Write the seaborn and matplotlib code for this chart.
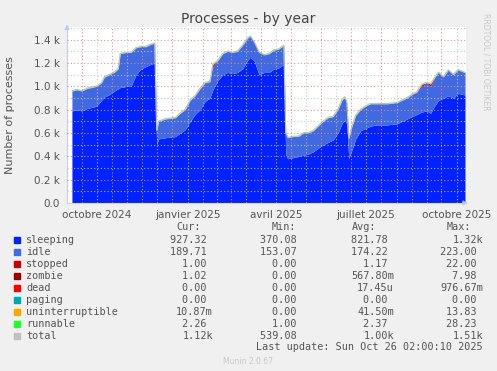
import numpy as np
import pandas as pd
import seaborn as sns
import matplotlib.pyplot as plt

# --- data ---
start = pd.Timestamp("2024-09-21")
end = pd.Timestamp("2025-10-26")

days = [0, 5, 10, 15, 20, 25, 30, 33, 38, 43,
        47, 49, 55, 60, 65, 70, 75, 80, 84, 86,
        88, 95, 105, 110, 115, 120, 125, 130, 135, 140,
        143, 148, 153, 158, 163, 168, 173, 178, 181, 185,
        190, 195, 200, 205, 210, 215, 217, 219, 225, 230,
        235, 240, 245, 250, 255, 260, 265, 270, 274, 277,
        279, 281, 284, 288, 293, 298, 303, 310, 320, 330,
        335, 340, 345, 350, 355, 360, 364, 368, 372, 377,
        382, 387, 392, 399]

sleeping = [790, 800, 790, 810, 820, 830, 880, 910, 930, 960,
            980, 990, 1000, 1000, 1100, 1150, 1170, 1190, 1200, 500,
            550, 560, 570, 600, 630, 700, 760, 800, 870, 900,
            970, 1050, 1100, 1120, 1110, 1120, 1150, 1220, 1250, 1220,
            1100, 1120, 1120, 1150, 1160, 1190, 420, 380, 390, 400,
            410, 420, 440, 470, 500, 520, 540, 600, 680, 710,
            680, 380, 450, 550, 620, 640, 660, 670, 670, 680,
            700, 720, 740, 760, 780, 790, 770, 830, 880, 900,
            920, 900, 940, 927]

idle = [170, 170, 170, 170, 170, 170, 150, 170, 170, 160,
        170, 290, 290, 290, 230, 190, 170, 170, 170, 120,
        150, 160, 160, 170, 170, 180, 160, 180, 160, 140,
        200, 170, 180, 180, 180, 180, 200, 190, 180, 160,
        190, 150, 160, 160, 160, 160, 180, 180, 180, 170,
        190, 180, 180, 190, 200, 210, 200, 200, 200, 200,
        180, 170, 200, 200, 180, 190, 190, 180, 180, 180,
        180, 180, 190, 190, 220, 240, 230, 240, 240, 180,
        220, 200, 200, 190]

stopped = [1, 1, 1, 1, 1, 1, 1, 1, 1, 1,
           1, 1, 1, 1, 1, 1, 1, 1, 1, 1,
           1, 1, 1, 1, 1, 1, 1, 1, 1, 1,
           18, 1, 1, 1, 1, 1, 1, 1, 1, 1,
           1, 1, 1, 1, 1, 1, 1, 1, 1, 1,
           1, 1, 1, 1, 1, 1, 1, 1, 1, 1,
           1, 1, 1, 1, 1, 1, 1, 1, 1, 1,
           1, 1, 1, 1, 16, 3, 20, 4, 1, 1,
           1, 1, 1, 1]

zombie = [0.5, 0.6, 0.5, 0.6, 0.5, 0.6, 0.6, 0.5, 0.6, 0.5,
          0.6, 0.5, 0.6, 0.5, 0.6, 0.5, 0.6, 0.5, 0.6, 0.5,
          0.6, 0.5, 0.6, 0.5, 0.6, 0.5, 0.6, 0.5, 0.6, 0.5,
          0.6, 0.5, 0.6, 0.5, 0.6, 0.5, 0.6, 0.5, 0.6, 0.5,
          0.6, 0.5, 0.6, 0.5, 0.6, 0.5, 0.6, 0.5, 0.6, 0.5,
          0.6, 0.5, 0.6, 0.5, 0.6, 0.5, 0.6, 0.5, 0.6, 0.5,
          0.6, 0.5, 0.6, 0.5, 0.6, 0.5, 0.6, 0.5, 0.6, 0.5,
          0.6, 0.5, 0.6, 0.5, 0.6, 0.5, 0.6, 0.5, 0.6, 0.5,
          0.6, 0.5, 1.0, 1.0]

runnable = [2, 3, 2, 2, 3, 2, 2, 3, 2, 2,
            3, 2, 2, 3, 2, 2, 3, 2, 2, 3,
            2, 2, 3, 2, 2, 3, 2, 2, 3, 2,
            2, 3, 2, 2, 3, 2, 2, 3, 2, 2,
            3, 2, 2, 3, 2, 2, 3, 2, 2, 3,
            2, 2, 3, 2, 2, 3, 2, 2, 3, 2,
            2, 3, 2, 2, 3, 2, 2, 3, 2, 2,
            3, 2, 2, 3, 2, 2, 3, 2, 2, 3,
            2, 2, 3, 2]

series_names = ["sleeping", "idle", "stopped", "zombie", "dead", "paging",
                "uninterruptible", "runnable", "total"]
series_colors = ["#0022ff", "#4169e1", "#cc0000", "#990000", "#ff0000", "#00aaaa",
                 "#ffa500", "#22ff22", "#c0c0c0"]
cur_vals = ["927.32 ", "189.71 ", "1.00 ", "1.02 ", "0.00 ", "0.00 ", "10.87m", "2.26 ", "1.12k"]
min_vals = ["370.08 ", "153.07 ", "0.00 ", "0.00 ", "0.00 ", "0.00 ", "0.00 ", "1.00 ", "539.08 "]
avg_vals = ["821.78 ", "174.22 ", "1.17 ", "567.80m", "17.45u", "0.00 ", "41.50m", "2.37 ", "1.00k"]
max_vals = ["1.32k", "223.00 ", "22.00 ", "7.98 ", "976.67m", "0.00 ", "13.83 ", "28.23 ", "1.51k"]

df = pd.DataFrame({"date": start + pd.to_timedelta(days, unit="D"),
                   "sleeping": sleeping, "idle": idle, "stopped": stopped,
                   "zombie": zombie, "runnable": runnable})
df["total"] = df[["sleeping", "idle", "stopped", "zombie", "runnable"]].sum(axis=1)

# --- style ---
sns.set_theme(style="white")
plt.rcParams["font.family"] = ["DejaVu Sans"]
txt = "#555555"

fig = plt.figure(figsize=(4.97, 3.71), dpi=100, facecolor="#f0f0f0")
ax = fig.add_axes([67 / 497, 1 - 203 / 371, 399 / 497, 176 / 371])
ax.set_facecolor("white")

# stacked areas, in munin's draw order
base = np.zeros(len(df))
for name, col in zip(["sleeping", "idle", "stopped", "zombie", "runnable"],
                     ["#0022ff", "#4169e1", "#cc0000", "#990000", "#22ff22"]):
    top = base + df[name].to_numpy()
    ax.fill_between(df["date"], base, top, color=col, lw=0, zorder=1)
    base = top
sns.lineplot(data=df, x="date", y="total", color="#b8c8a0", lw=0.8, ax=ax, zorder=2)

ax.set_xlim(start, end)
ax.set_ylim(0, 1510)
ax.set_xlabel("")
ax.set_ylabel("")

# y axis: ticks every 0.2 k, minor every 0.1 k
yt = np.arange(0, 1401, 200)
ax.set_yticks(yt)
ax.set_yticklabels(["0.0"] + [f"{v / 1000:.1f} k" for v in yt[1:]])
ax.set_yticks(np.arange(100, 1501, 200), minor=True)

# x axis: month starts as major, mid-months as minor (labels on quarters)
months = pd.date_range("2024-10-01", "2025-10-01", freq="MS")
ax.set_xticks(months)
ax.set_xticklabels([""] * len(months))
fr = {1: "janvier", 4: "avril", 7: "juillet", 10: "octobre"}
all_months = pd.date_range("2024-09-01", "2025-10-01", freq="MS")
mids = [m + (m + pd.offsets.MonthBegin(1) - m) / 2 for m in all_months]
mid_labels = [f"{fr[m.month]} {m.year}" if m.month in fr else "" for m in all_months]
ax.set_xticks(mids, minor=True)
ax.set_xticklabels(mid_labels, minor=True)

ax.tick_params(axis="x", which="major", length=3, color="#e08a8a", labelsize=7.5)
ax.tick_params(axis="x", which="minor", length=2, color="#c8c8c8", labelsize=7.5,
               labelcolor=txt, pad=3)
ax.tick_params(axis="y", which="major", length=2, color="#e08a8a", labelsize=7.5,
               labelcolor=txt, pad=3)
ax.tick_params(axis="y", which="minor", length=0)

ax.set_axisbelow(False)
ax.grid(which="major", color="#e08a8a", ls=(0, (1, 2)), lw=0.8, alpha=0.9)
ax.grid(which="minor", color="#c4c4c4", ls=(0, (1, 2)), lw=0.8, alpha=0.9)

for s in ["top", "right"]:
    ax.spines[s].set_visible(False)
for s in ["left", "bottom"]:
    ax.spines[s].set_color("#cdd3f0")
    ax.spines[s].set_linewidth(0.8)

# axis arrows like rrdtool
ax.annotate("", xy=(0, 1.03), xytext=(0, 0.97), xycoords="axes fraction",
            arrowprops=dict(arrowstyle="-|>", color="#c0c8f0", lw=0.8, mutation_scale=7))
ax.annotate("", xy=(1.012, 0), xytext=(0.99, 0), xycoords="axes fraction",
            arrowprops=dict(arrowstyle="-|>", color="#c0c8f0", lw=0.8, mutation_scale=7))

fig.text(0.5, 1 - 19 / 371, "Processes - by year", ha="center", va="center",
         fontsize=10, color="#444444")
fig.text(10 / 497, 1 - 115 / 371, "Number of processes", rotation=90,
         ha="center", va="center", fontsize=8, color=txt)
fig.text(486 / 497, 1 - 62 / 371, "RRDTOOL / TOBI OETIKER", rotation=270,
         ha="center", va="center", fontsize=5.5, color="#c8c8c8")

# --- legend table ---
mono = dict(family="DejaVu Sans Mono", fontsize=7.25, color=txt, va="center")
W, H = 497, 371
fig.text(176 / W, 1 - 227 / H, "Cur:", ha="left", **mono)
fig.text(272 / W, 1 - 227 / H, "Min:", ha="left", **mono)
fig.text(352 / W, 1 - 227 / H, "Avg:", ha="left", **mono)
fig.text(447 / W, 1 - 227 / H, "Max:", ha="left", **mono)
for i, name in enumerate(series_names):
    y = 1 - (240 + i * 11.95) / H
    fig.patches.append(plt.Rectangle((14 / W, y - 3 / H), 6 / W, 6 / H,
                                     transform=fig.transFigure, color=series_colors[i]))
    fig.text(26 / W, y, name, ha="left", **mono)
    fig.text(213 / W, y, cur_vals[i], ha="right", **mono)
    fig.text(303 / W, y, min_vals[i], ha="right", **mono)
    fig.text(394 / W, y, avg_vals[i], ha="right", **mono)
    fig.text(483 / W, y, max_vals[i], ha="right", **mono)
fig.text(483 / W, 1 - 347 / H, "Last update: Sun Oct 26 02:00:10 2025", ha="right", **mono)
fig.text(248 / W, 1 - 362 / H, "Munin 2.0.67", ha="center", va="center",
         fontsize=5.5, color="#c8c8c8")

fig.savefig("out.png", dpi=100, facecolor=fig.get_facecolor())
